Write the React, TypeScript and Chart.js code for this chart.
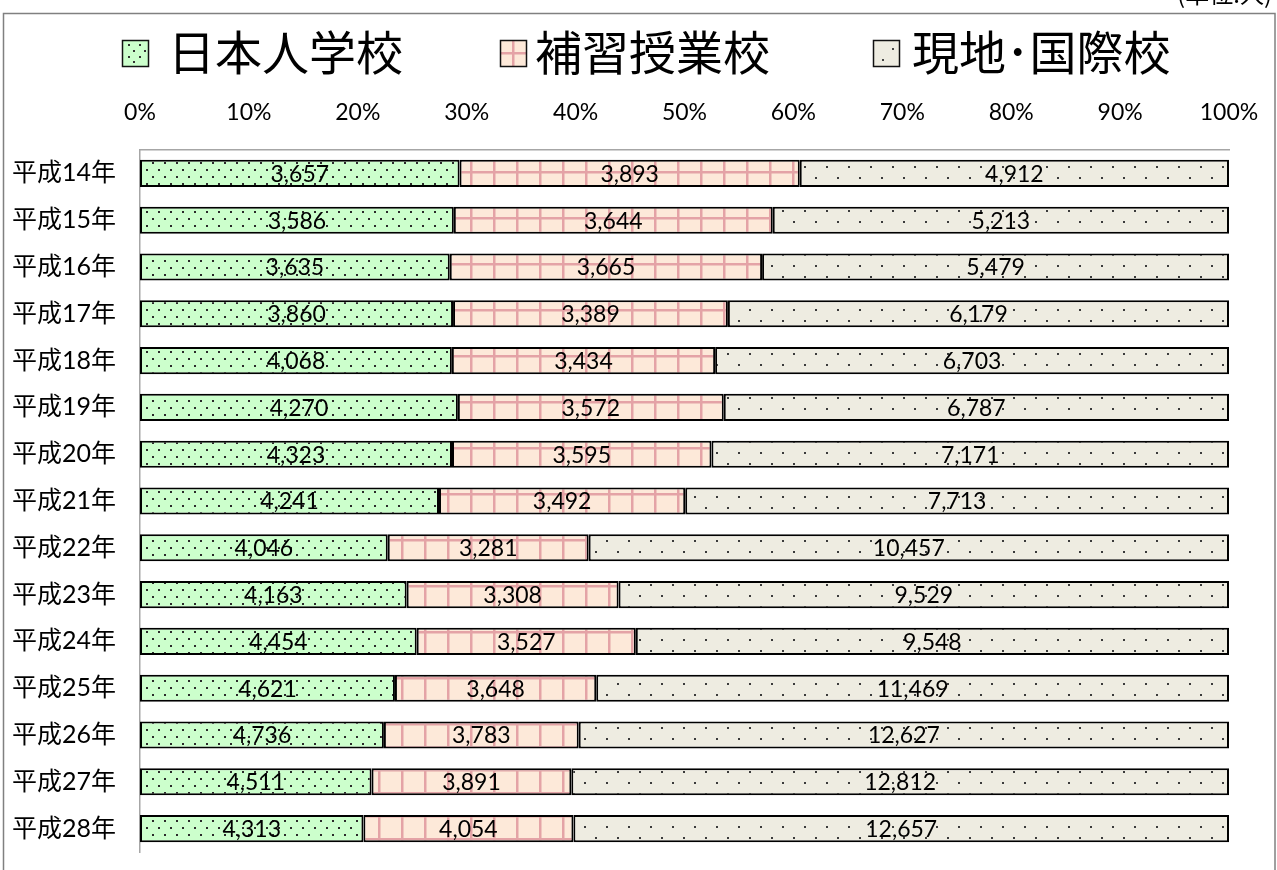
import React, { useEffect, useRef } from "react";
import { Chart, registerables } from "chart.js";

Chart.register(...registerables);

const categories = [
  "平成14年", "平成15年", "平成16年", "平成17年", "平成18年",
  "平成19年", "平成20年", "平成21年", "平成22年", "平成23年",
  "平成24年", "平成25年", "平成26年", "平成27年", "平成28年",
];
const japaneseSchool = [3657, 3586, 3635, 3860, 4068, 4270, 4323, 4241, 4046, 4163, 4454, 4621, 4736, 4511, 4313];
const supplementarySchool = [3893, 3644, 3665, 3389, 3434, 3572, 3595, 3492, 3281, 3308, 3527, 3648, 3783, 3891, 4054];
const localIntlSchool = [4912, 5213, 5479, 6179, 6703, 6787, 7171, 7713, 10457, 9529, 9548, 11469, 12627, 12812, 12657];
const seriesNames = ["日本人学校", "補習授業校", "現地･国際校"];
const xTicks = [0, 10, 20, 30, 40, 50, 60, 70, 80, 90, 100];
const unitLabel = "(単位:人)";

const GREEN = "#ccffcc";
const PINK = "#fde9d9";
const PINK_LINE = "#e4a3a6";
const BEIGE = "#eeece1";

function makePattern(w: number, h: number, bg: string, draw: (g: CanvasRenderingContext2D) => void) {
  const c = document.createElement("canvas");
  c.width = w;
  c.height = h;
  const g = c.getContext("2d")!;
  g.fillStyle = bg;
  g.fillRect(0, 0, w, h);
  draw(g);
  return g.createPattern(c, "repeat")!;
}

export default function App() {
  const ref = useRef<HTMLCanvasElement>(null);

  useEffect(() => {
    const canvas = ref.current!;
    const greenPat = makePattern(12, 14, GREEN, (g) => {
      g.fillStyle = "#2a2a2a";
      g.fillRect(2, 1, 2, 2);
      g.fillRect(8, 8, 2, 2);
    });
    const pinkPat = makePattern(23, 23, PINK, (g) => {
      g.fillStyle = PINK_LINE;
      g.fillRect(10, 0, 2.5, 23);
      g.fillRect(0, 10, 23, 2.5);
    });
    const beigePat = makePattern(22, 22, BEIGE, (g) => {
      g.fillStyle = "#3a3a3a";
      g.fillRect(1, 1, 2, 2);
      g.fillRect(12, 12, 2, 2);
    });

    const totals = categories.map((_, i) => japaneseSchool[i] + supplementarySchool[i] + localIntlSchool[i]);
    const raw = [japaneseSchool, supplementarySchool, localIntlSchool];
    const pats = [greenPat, pinkPat, beigePat];

    const framePlugin = {
      id: "frame",
      beforeDraw(chart: any) {
        const ctx = chart.ctx;
        ctx.save();
        ctx.fillStyle = "#fff";
        ctx.fillRect(0, 0, chart.width, chart.height);
        ctx.strokeStyle = "#808080";
        ctx.lineWidth = 1.5;
        ctx.strokeRect(3.5, 13.5, 1271.5, 900);
        ctx.fillStyle = "#000";
        ctx.font = "24px 'Noto Sans CJK JP'";
        ctx.textAlign = "right";
        ctx.textBaseline = "bottom";
        ctx.fillText(unitLabel, 1272, 6);
        ctx.restore();
      },
      afterDraw(chart: any) {
        const ctx = chart.ctx;
        ctx.save();
        const boxes = [122, 500, 873];
        const texts = [168, 535, 912];
        const by = 40, bs = 26;
        for (let k = 0; k < 3; k++) {
          const bx = boxes[k];
          if (k === 0) {
            ctx.fillStyle = GREEN;
            ctx.fillRect(bx, by, bs, bs);
            ctx.fillStyle = "#333";
            [[6, 4], [17, 4], [11, 10], [22, 10], [6, 16], [17, 16], [11, 21]].forEach(([dx, dy]) => ctx.fillRect(bx + dx, by + dy, 2, 2));
          } else if (k === 1) {
            ctx.fillStyle = PINK;
            ctx.fillRect(bx, by, bs, bs);
            ctx.fillStyle = PINK_LINE;
            ctx.fillRect(bx + 12, by, 2.5, bs);
            ctx.fillRect(bx, by + 12, bs, 2.5);
          } else {
            ctx.fillStyle = BEIGE;
            ctx.fillRect(bx, by, bs, bs);
            ctx.fillStyle = "#444";
            ctx.fillRect(bx + 19, by + 8, 2, 2);
            ctx.fillRect(bx + 9, by + 19, 2, 2);
          }
          ctx.strokeStyle = "#111";
          ctx.lineWidth = 1.5;
          ctx.strokeRect(bx + 0.5, by + 0.5, bs, bs);
          ctx.fillStyle = "#000";
          ctx.font = "47px 'Noto Sans CJK JP'";
          ctx.textAlign = "left";
          ctx.textBaseline = "middle";
          ctx.fillText(seriesNames[k], texts[k], by + 12);
        }
        ctx.restore();
      },
      afterDatasetsDraw(chart: any) {
        const ctx = chart.ctx;
        ctx.save();
        ctx.fillStyle = "#000";
        ctx.font = "23px Lato";
        ctx.textAlign = "center";
        ctx.textBaseline = "middle";
        chart.data.datasets.forEach((_: any, di: number) => {
          const meta = chart.getDatasetMeta(di);
          meta.data.forEach((el: any, i: number) => {
            const x = (el.x + el.base) / 2;
            ctx.fillText(raw[di][i].toLocaleString("en-US"), x, el.y + 1);
          });
        });
        ctx.restore();
      },
    };

    const chart = new Chart(canvas, {
      type: "bar",
      data: {
        labels: categories,
        datasets: raw.map((arr, k) => ({
          label: seriesNames[k],
          data: arr.map((v, i) => (v / totals[i]) * 100),
          backgroundColor: pats[k] as any,
          borderColor: "#000",
          borderWidth: 2,
          borderSkipped: false,
          barPercentage: 0.58,
          categoryPercentage: 1,
        })),
      },
      options: {
        indexAxis: "y",
        animation: false,
        responsive: false,
        layout: { padding: { top: 0, left: 0, right: 48, bottom: 18 } },
        plugins: { legend: { display: false }, tooltip: { enabled: false } },
        scales: {
          x: {
            type: "linear",
            position: "top",
            stacked: true,
            min: 0,
            max: 100,
            afterFit: (s: any) => {
              s.height = 150;
              s.paddingLeft = 0; s.paddingRight = 0; s.paddingTop = 0; s.paddingBottom = 0;
            },
            afterBuildTicks: (s: any) => { s.ticks = xTicks.map((v) => ({ value: v })); },
            ticks: {
              callback: (v: any) => v + "%",
              font: { family: "Lato", size: 23 },
              color: "#000",
              padding: 24,
              maxRotation: 0,
            },
            grid: { display: false, drawTicks: false },
            border: { display: true, color: "#a6a6a6", width: 1.5 },
          },
          y: {
            stacked: true,
            afterFit: (s: any) => {
              s.width = 140;
              s.paddingLeft = 0; s.paddingRight = 0; s.paddingTop = 0; s.paddingBottom = 0;
            },
            ticks: {
              font: { family: "Lato, 'Noto Sans CJK JP'", size: 25 },
              color: "#000",
              padding: 24,
            },
            grid: { display: false, drawTicks: false },
            border: { display: true, color: "#a6a6a6", width: 1.5 },
          },
        },
      },
      plugins: [framePlugin],
    } as any);

    return () => chart.destroy();
  }, []);

  return (
    <div style={{ position: "fixed", left: 0, top: 0, width: 1277, height: 870, background: "#fff" }}>
      <canvas ref={ref} width={1277} height={870} style={{ display: "block" }} />
    </div>
  );
}
